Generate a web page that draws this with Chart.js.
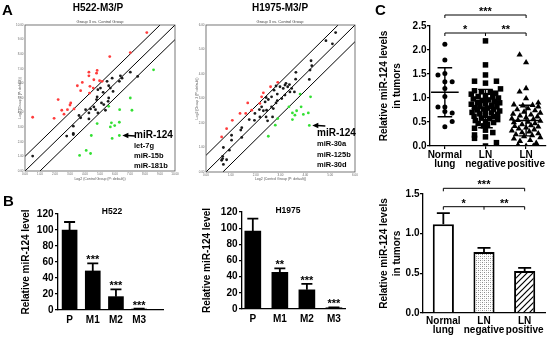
<!DOCTYPE html>
<html>
<head>
<meta charset="utf-8">
<script src="https://cdn.jsdelivr.net/npm/chart.js@4.4.0/dist/chart.umd.min.js"></script>
<style>
  body { margin: 0; background: #fff; }
  #fig { position: relative; width: 550px; height: 337px; overflow: hidden; font-family: "Liberation Sans", Arial, sans-serif; }
  #fig canvas { position: absolute; }
  .t { position: absolute; font-weight: bold; white-space: nowrap; line-height: 1; color: #000; }
  .c { transform: translate(-50%, -50%); }
  .m { transform: translateY(-50%); }
</style>
</head>
<body>
<div id="fig">
  <canvas id="aLeft" style="left:0;top:15px" width="185" height="175"></canvas>
  <canvas id="aRight" style="left:185px;top:15px" width="180" height="175"></canvas>
  <canvas id="bLeft" style="left:20px;top:200px" width="148" height="137"></canvas>
  <canvas id="bRight" style="left:201px;top:200px" width="149" height="137"></canvas>
  <canvas id="cDots" style="left:378px;top:0" width="172" height="172"></canvas>
  <canvas id="cBars" style="left:378px;top:170px" width="172" height="167"></canvas>

  <div class="t" style="left:2px;top:2px;font-size:15px">A</div>
  <div class="t" style="left:3px;top:193px;font-size:15px">B</div>
  <div class="t" style="left:375px;top:2px;font-size:15px">C</div>

  <div class="t c" style="left:98px;top:8px;font-size:10px">H522-M3/P</div>
  <div class="t c" style="left:280px;top:8px;font-size:10px">H1975-M3/P</div>
  <div class="t c" style="left:100px;top:22px;font-size:4px;font-weight:normal;color:#444">Group 3 vs. Control Group</div>
  <div class="t c" style="left:280px;top:22px;font-size:4px;font-weight:normal;color:#444">Group 3 vs. Control Group</div>

  <div class="t m" style="left:134px;top:135px;font-size:10px">miR-124</div>
  <div class="t m" style="left:134px;top:145.5px;font-size:7.5px">let-7g</div>
  <div class="t m" style="left:134px;top:155.5px;font-size:7.5px">miR-15b</div>
  <div class="t m" style="left:134px;top:166px;font-size:7.5px">miR-181b</div>

  <div class="t m" style="left:317px;top:133px;font-size:10px">miR-124</div>
  <div class="t m" style="left:317px;top:144px;font-size:7.5px">miR-30a</div>
  <div class="t m" style="left:317px;top:155px;font-size:7.5px">miR-125b</div>
  <div class="t m" style="left:317px;top:165px;font-size:7.5px">miR-30d</div>

  <div class="t c" style="left:112px;top:211px;font-size:8.5px">H522</div>
  <div class="t c" style="left:288px;top:210px;font-size:8.5px">H1975</div>
</div>

<script>
// ---------- panel A: [log2 control, log2 M3] ----------
const h522Up = [[8.12,9.48],[7.02,8.11],[5.65,7.84],[4.81,6.89],[4.77,6.70],[4.26,6.77],[4.26,6.52],[4.59,6.25],[4.97,6.18],[5.14,6.14],[3.82,6.07],[3.49,5.84],[4.33,5.80],[3.71,5.50],[4.55,5.68],[4.30,5.34],[2.21,4.89],[3.05,4.66],[3.00,4.52],[3.27,4.25],[2.83,4.20],[2.45,4.16],[2.60,3.89],[1.94,3.61],[0.51,3.68]];
const h522Flat = [[7.02,6.77],[7.51,6.48],[5.81,6.36],[5.47,6.14],[5.58,5.84],[6.29,6.14],[6.47,6.36],[5.03,5.68],[4.86,5.57],[5.69,5.68],[5.21,5.39],[4.81,5.07],[4.77,4.89],[5.58,5.00],[5.54,4.77],[5.10,4.66],[4.59,4.39],[4.37,4.25],[4.70,4.20],[4.04,4.20],[4.86,3.98],[4.26,3.98],[3.60,3.80],[3.71,3.64],[4.26,3.57],[5.36,4.16],[3.22,3.07],[3.22,2.57],[2.78,2.39],[3.22,2.50],[0.51,1.02],[6.36,6.52],[5.87,5.45],[5.25,4.55]];
const h522Down = [[8.57,6.93],[7.02,5.00],[7.13,4.16],[6.31,4.20],[5.58,4.43],[5.76,3.30],[5.69,3.02],[5.98,3.11],[4.81,3.25],[6.29,3.34],[6.29,2.43],[5.81,2.23],[4.42,2.43],[4.08,1.41],[4.37,1.20],[3.64,1.07]];
const h522Hit = [6.29, 2.43];   // miR-124

const h1975Up = [[2.89,3.66],[2.60,3.48],[2.31,3.23],[2.17,2.80],[1.68,2.82],[1.84,2.52],[1.60,2.39],[1.37,2.39],[1.06,2.11],[0.83,1.77],[0.63,1.43],[2.24,3.07]];
const h1975Flat = [[5.22,5.69],[4.83,5.36],[5.09,5.23],[4.23,4.54],[4.26,4.34],[4.19,4.16],[4.16,3.78],[3.62,4.07],[3.61,3.79],[3.22,3.62],[3.36,3.57],[3.29,3.48],[3.45,3.41],[3.11,3.41],[2.98,3.48],[2.82,3.51],[2.74,3.34],[2.87,3.18],[3.38,3.27],[3.18,3.14],[3.56,3.27],[2.64,3.07],[2.51,2.96],[2.42,3.04],[2.38,2.86],[2.64,2.66],[2.71,2.59],[2.44,2.52],[2.82,2.82],[3.05,3.00],[2.24,2.66],[2.15,2.55],[1.97,2.39],[2.17,2.25],[1.95,2.11],[1.74,2.14],[2.48,2.09],[2.42,2.25],[2.31,2.50],[2.68,2.25],[1.44,1.81],[1.40,1.71],[1.44,1.41],[1.03,1.50],[1.03,1.30],[0.70,1.00],[0.94,0.89],[0.67,0.64],[0.67,0.55],[0.63,0.48],[0.83,0.50],[0.70,0.31],[2.87,2.91],[3.18,3.55]];
const h1975Down = [[4.21,3.07],[3.79,3.18],[3.34,2.66],[3.83,2.66],[3.65,2.50],[3.48,2.41],[3.58,2.32],[3.48,2.14],[3.92,2.35],[4.12,2.41],[2.89,2.18],[2.79,1.91],[2.51,1.46],[4.16,1.90]];
const h1975Hit = [4.16, 1.90];  // miR-124

// ---------- panel B: qRT-PCR relative miR-124 level ----------
const cellGroups = ['P', 'M1', 'M2', 'M3'];
const h522Mean = [100, 48.8, 16.7, 1.2];
const h522Sem = [10, 9.5, 9.1, 0.4];
const h522Sig = ['', '***', '***', '***'];
const h1975Mean = [96.5, 45.4, 23.7, 1.5];
const h1975Sem = [15.2, 4.9, 7.3, 0.5];
const h1975Sig = ['', '**', '***', '***'];

// ---------- panel C: tumour samples ----------
const tissueGroups = [['Normal', 'lung'], ['LN', 'negative'], ['LN', 'positive']];
const normalLung = [2.12, 1.79, 1.51, 1.48, 1.34, 1.34, 1.20, 1.03, 0.81, 0.81, 0.72, 0.69, 0.51, 0.40];
const normalJit = [0, 0, 0, -0.17, 0, 0.18, 0, 0, -0.17, 0, 0, 0.18, 0.18, 0];
const lnNegative = [2.19,1.69,1.48,1.35,1.35,1.31,1.19,1.15,1.13,1.12,1.10,1.08,1.05,1.03,1.02,1.00,0.98,0.96,0.95,0.93,0.91,0.90,0.88,0.87,0.85,0.84,0.82,0.80,0.79,0.77,0.76,0.75,0.73,0.72,0.70,0.69,0.67,0.66,0.64,0.62,0.61,0.58,0.57,0.55,0.53,0.51,0.49,0.47,0.45,0.42,0.37,0.33,0.28,0.23,0.19,0.16,0.07,0.00];
const lnNegJit = [0,0,0,-0.27,0.27,0,0.37,-0.27,-0.1,0.12,0.25,-0.35,0,-0.18,0.18,0.32,-0.3,0.08,-0.08,0.22,-0.2,0.35,0,-0.35,0.15,-0.14,0.28,-0.27,0.05,-0.05,0.2,-0.2,0.35,0,-0.33,0.15,-0.14,0.3,0,-0.28,0.2,-0.1,0.1,0.3,-0.25,0,0.2,-0.18,0.05,-0.05,-0.27,0,0.18,-0.27,0,-0.27,0.27,0];
const lnPositive = [1.90,1.74,1.20,1.13,0.99,0.90,0.86,0.85,0.84,0.82,0.78,0.76,0.74,0.71,0.69,0.67,0.65,0.63,0.61,0.59,0.57,0.56,0.54,0.52,0.50,0.49,0.47,0.45,0.43,0.41,0.40,0.38,0.36,0.34,0.32,0.30,0.28,0.26,0.24,0.22,0.20,0.18,0.15,0.12,0.10,0.06,0.02,0.00,0.00];
const lnPosJit = [-0.16,0,0,-0.16,0,0.3,-0.3,0.16,-0.08,0.3,0.05,-0.22,0.22,-0.05,0.35,-0.32,0.12,-0.15,0.28,0,-0.35,0.18,-0.2,0.35,0.05,-0.3,0.22,-0.1,0.12,-0.28,0.3,0,-0.18,0.2,-0.35,0.08,-0.1,0.3,-0.25,0.15,-0.05,0.35,-0.3,0.1,-0.15,0.25,-0.2,0,0.18];
const groupMean = [1.12, 0.78, 0.53];
const groupSd = [0.51, 0.40, 0.32];
const barMean = [1.12, 0.77, 0.53];
const barSem = [0.14, 0.05, 0.04];

const FONT = '"Liberation Sans", Arial, sans-serif';
const base = {
  responsive: false,
  animation: false,
  events: [],
  plugins: { legend: { display: false }, tooltip: { enabled: false } }
};

function stars(ctx, text, x, cy) {
  ctx.save();
  ctx.font = 'bold 11px ' + FONT;
  ctx.textAlign = 'center';
  ctx.textBaseline = 'alphabetic';
  ctx.fillStyle = '#000';
  ctx.fillText(text, x, cy + 6);
  ctx.restore();
}

// box around the plot area of the microarray scatters
const frame = {
  id: 'frame',
  afterDraw(chart) {
    const { ctx, chartArea: a } = chart;
    ctx.save();
    ctx.strokeStyle = '#555';
    ctx.lineWidth = 0.8;
    ctx.strokeRect(a.left, a.top, a.right - a.left, a.bottom - a.top);
    ctx.restore();
  }
};

function arrowTo(hit) {
  return {
    id: 'arrowTo',
    afterDatasetsDraw(chart) {
      const { ctx, scales: { x, y } } = chart;
      const px = x.getPixelForValue(hit[0]) + 3, py = y.getPixelForValue(hit[1]);
      ctx.save();
      ctx.fillStyle = '#000';
      ctx.strokeStyle = '#000';
      ctx.lineWidth = 1.6;
      ctx.beginPath();
      ctx.moveTo(px, py);
      ctx.lineTo(px + 6, py - 2.8);
      ctx.lineTo(px + 6, py + 2.8);
      ctx.closePath();
      ctx.fill();
      ctx.beginPath();
      ctx.moveTo(px + 5, py);
      ctx.lineTo(px + 13, py + 0.5);
      ctx.stroke();
      ctx.restore();
    }
  };
}

function pts(list) { return list.map(p => ({ x: p[0], y: p[1] })); }

function arrayChart(id, up, flat, down, hit, span, fold, yWidth, xHeight, yTitlePad) {
  const dot = (data, color) => ({ data: pts(data), backgroundColor: color, borderWidth: 0, pointRadius: 1.4 });
  const line = (data) => ({ data, showLine: true, borderColor: '#000', borderWidth: 1, pointRadius: 0 });
  const tiny = { size: 3, family: FONT };
  new Chart(document.getElementById(id), {
    type: 'scatter',
    data: {
      datasets: [
        dot(up, '#ff3b3b'),
        dot(down, '#33e033'),
        dot(flat, '#1a1a1a'),
        line([{ x: 0, y: fold }, { x: span - fold, y: span }]),
        line([{ x: 0, y: 0 }, { x: span, y: span }]),
        line([{ x: fold, y: 0 }, { x: span, y: span - fold }])
      ]
    },
    options: {
      ...base,
      layout: { padding: { top: 10, right: 10, bottom: 0, left: 0 } },
      scales: {
        x: {
          type: 'linear', min: 0, max: span,
          afterFit: s => { s.height = xHeight; },
          grid: { display: false, drawTicks: false }, border: { display: false },
          ticks: { stepSize: 1, font: tiny, color: '#666', padding: 1.5, maxRotation: 0, callback: v => v.toFixed(2) },
          title: { display: true, text: 'Log2 (Control Group (P: default))', font: { size: 3.5, family: FONT }, color: '#555', padding: { top: 0, bottom: 9 } }
        },
        y: {
          min: 0, max: span,
          afterFit: s => { s.width = yWidth; },
          grid: { display: false, drawTicks: false }, border: { display: false },
          ticks: { stepSize: 1, font: tiny, color: '#666', padding: 1.5, callback: v => v.toFixed(2) },
          title: { display: true, text: 'Log2 (Group 3 (P: default))', font: { size: 3.5, family: FONT }, color: '#555', padding: { top: yTitlePad, bottom: 0 } }
        }
      }
    },
    plugins: [frame, arrowTo(hit)]
  });
}

arrayChart('aLeft', h522Up, h522Flat, h522Down, h522Hit, 10, 1, 25, 19, 18);
arrayChart('aRight', h1975Up, h1975Flat, h1975Down, h1975Hit, 6, 0.68, 21, 18, 10);

// ---------- shared axis styling for the GraphPad-like panels ----------
const tickFont = { size: 10, weight: 'bold', family: FONT, lineHeight: 0.9 };
const titleFont = { size: 10, weight: 'bold', family: FONT, lineHeight: 1.3 };

function errorPlugin(sems, sig, cap, width) {
  return {
    id: 'errors',
    afterDatasetsDraw(chart) {
      const { ctx, scales: { y } } = chart;
      const meta = chart.getDatasetMeta(0);
      const data = chart.data.datasets[0].data;
      ctx.save();
      ctx.strokeStyle = '#000';
      ctx.lineWidth = width;
      meta.data.forEach((bar, i) => {
        const v = typeof data[i] === 'object' ? data[i].y : data[i];
        const top = y.getPixelForValue(v + sems[i]);
        ctx.beginPath();
        ctx.moveTo(bar.x, bar.y);
        ctx.lineTo(bar.x, top);
        ctx.moveTo(bar.x - cap, top);
        ctx.lineTo(bar.x + cap, top);
        ctx.stroke();
        if (sig && sig[i]) stars(ctx, sig[i], bar.x, top - 6);
      });
      ctx.restore();
    }
  };
}

function bracketPlugin(items, valueOf) {
  return {
    id: 'brackets',
    afterDraw(chart) {
      const { ctx } = chart;
      const x = chart.scales.x;
      const px = i => x.getPixelForValue(valueOf(i));
      ctx.save();
      ctx.strokeStyle = '#000';
      ctx.lineWidth = 1;
      items.forEach(b => {
        ctx.beginPath();
        ctx.moveTo(px(b.from), b.y + 3);
        ctx.lineTo(px(b.from), b.y);
        ctx.lineTo(px(b.to), b.y);
        ctx.lineTo(px(b.to), b.y + 3);
        if (b.mid != null) {
          ctx.moveTo(px(b.mid), b.y);
          ctx.lineTo(px(b.mid), b.y + 3);
        }
        ctx.stroke();
        b.labels.forEach(([txt, at]) => stars(ctx, txt, px(at), b.y - 6));
      });
      ctx.restore();
    }
  };
}

// ---------- panel B ----------
function cellChart(id, means, sems, sig, xmin, xmax, yWidth, top, xHeight, thick) {
  new Chart(document.getElementById(id), {
    type: 'bar',
    data: {
      datasets: [{
        data: means.map((v, i) => ({ x: i, y: v })),
        backgroundColor: '#000',
        borderWidth: 0,
        barThickness: thick
      }]
    },
    options: {
      ...base,
      layout: { padding: { top, right: 5, bottom: 0, left: 0 } },
      scales: {
        x: {
          type: 'linear', min: xmin, max: xmax, offset: false,
          afterBuildTicks: s => { s.ticks = cellGroups.map((c, i) => ({ value: i })); },
          afterFit: s => { s.height = xHeight; },
          grid: { display: false, drawTicks: false, offset: false },
          border: { color: '#000', width: 1.3 },
          ticks: { font: tickFont, color: '#000', padding: 6, maxRotation: 0, autoSkip: false, callback: v => cellGroups[Math.round(v)] }
        },
        y: {
          min: 0, max: 120,
          afterFit: s => { s.width = yWidth; },
          grid: { drawOnChartArea: false, tickLength: 3, color: '#000', lineWidth: 1.3 },
          border: { color: '#000', width: 1.3 },
          ticks: { stepSize: 20, font: tickFont, color: '#000', padding: 1.5 },
          title: { display: true, text: 'Relative miR-124 level', font: titleFont, color: '#000', padding: 0 }
        }
      }
    },
    plugins: [errorPlugin(sems, sig, 5.5, 1.8)]
  });
}

cellChart('bLeft', h522Mean, h522Sem, h522Sig, -0.5, 4.03, 38, 14, 27, 15);
cellChart('bRight', h1975Mean, h1975Sem, h1975Sig, -0.4, 3.41, 41, 12, 28, 16);

// ---------- panel C, dot plot ----------
const yTitleC = { display: true, text: ['Relative miR-124 levels', 'in tumors'], font: titleFont, color: '#000', padding: 0 };

const meanSd = {
  id: 'meanSd',
  afterDatasetsDraw(chart) {
    const { ctx, scales: { x, y } } = chart;
    ctx.save();
    ctx.strokeStyle = '#000';
    ctx.lineWidth = 1.4;
    groupMean.forEach((m, i) => {
      const c = i + 1;
      const hi = y.getPixelForValue(m + groupSd[i]), lo = y.getPixelForValue(m - groupSd[i]);
      const my = y.getPixelForValue(m);
      ctx.beginPath();
      ctx.moveTo(x.getPixelForValue(c - 0.34), my); ctx.lineTo(x.getPixelForValue(c + 0.34), my);
      ctx.moveTo(x.getPixelForValue(c), hi); ctx.lineTo(x.getPixelForValue(c), lo);
      ctx.moveTo(x.getPixelForValue(c - 0.18), hi); ctx.lineTo(x.getPixelForValue(c + 0.18), hi);
      ctx.moveTo(x.getPixelForValue(c - 0.18), lo); ctx.lineTo(x.getPixelForValue(c + 0.18), lo);
      ctx.stroke();
    });
    ctx.restore();
  }
};

const swarm = (vals, jit, g) => vals.map((v, i) => ({ x: g + 1 + jit[i], y: v }));

new Chart(document.getElementById('cDots'), {
  type: 'scatter',
  data: {
    datasets: [
      { data: swarm(normalLung, normalJit, 0), pointStyle: 'circle', pointRadius: 2.5, backgroundColor: '#000', borderWidth: 0 },
      { data: swarm(lnNegative, lnNegJit, 1), pointStyle: 'rect', pointRadius: 3.9, backgroundColor: '#000', borderWidth: 0 },
      { data: swarm(lnPositive, lnPosJit, 2), pointStyle: 'triangle', pointRadius: 3.6, backgroundColor: '#000', borderWidth: 0 }
    ]
  },
  options: {
    ...base,
    layout: { padding: { top: 26, right: 3, bottom: 0, left: 0 } },
    scales: {
      x: {
        type: 'linear', min: 0.634, max: 3.49,
        afterBuildTicks: s => { s.ticks = tissueGroups.map((g, i) => ({ value: i + 1 })); },
        afterFit: s => { s.height = 26; },
        grid: { drawOnChartArea: false, tickLength: 3, color: '#000', lineWidth: 1.2 },
        border: { color: '#000', width: 1.3 },
        ticks: { font: tickFont, color: '#000', padding: 2, maxRotation: 0, autoSkip: false, callback: v => tissueGroups[Math.round(v) - 1] }
      },
      y: {
        min: 0, max: 2.5,
        afterFit: s => { s.width = 52; },
        grid: { drawOnChartArea: false, tickLength: 3, color: '#000', lineWidth: 1.3 },
        border: { color: '#000', width: 1.3 },
        ticks: { stepSize: 0.5, font: tickFont, color: '#000', padding: 0.5, callback: v => v.toFixed(1) },
        title: yTitleC
      }
    }
  },
  plugins: [meanSd, bracketPlugin([
    { from: 0, to: 2, y: 15, labels: [['***', 1]] },
    { from: 0, to: 2, y: 33, mid: 1, labels: [['*', 0.5], ['**', 1.5]] }
  ], i => i + 1)]
});

// ---------- panel C, bar plot ----------
const barCanvas = document.getElementById('cBars');
const bctx = barCanvas.getContext('2d');

const dotTile = document.createElement('canvas');
dotTile.width = 4; dotTile.height = 4;
let g = dotTile.getContext('2d');
g.fillStyle = '#fff'; g.fillRect(0, 0, 4, 4);
g.fillStyle = '#8a8a8a'; g.fillRect(0, 0, 1, 1); g.fillRect(2, 2, 1, 1);
g.fillStyle = '#c4c4c4'; g.fillRect(2, 0, 1, 1); g.fillRect(0, 2, 1, 1);
const dotFill = bctx.createPattern(dotTile, 'repeat');

const hatchTile = document.createElement('canvas');
hatchTile.width = 6; hatchTile.height = 6;
g = hatchTile.getContext('2d');
g.fillStyle = '#fff'; g.fillRect(0, 0, 6, 6);
g.strokeStyle = '#000'; g.lineWidth = 1.2;
g.beginPath();
g.moveTo(-1, 7); g.lineTo(7, -1);
g.moveTo(-4, 4); g.lineTo(4, -4);
g.moveTo(2, 10); g.lineTo(10, 2);
g.stroke();
const hatchFill = bctx.createPattern(hatchTile, 'repeat');

new Chart(barCanvas, {
  type: 'bar',
  data: {
    labels: tissueGroups,
    datasets: [{
      data: barMean,
      backgroundColor: ['#fff', dotFill, hatchFill],
      borderColor: '#000',
      borderWidth: 2,
      barPercentage: 0.52,
      categoryPercentage: 1
    }]
  },
  options: {
    ...base,
    layout: { padding: { top: 24, right: 5, bottom: 0, left: 0 } },
    scales: {
      x: {
        afterFit: s => { s.height = 24; },
        grid: { display: false, drawTicks: false },
        border: { color: '#000', width: 1.3 },
        ticks: { font: tickFont, color: '#000', padding: 3.5, maxRotation: 0, autoSkip: false }
      },
      y: {
        min: 0, max: 1.5,
        afterFit: s => { s.width = 45; },
        grid: { drawOnChartArea: false, tickLength: 3, color: '#000', lineWidth: 1.3 },
        border: { color: '#000', width: 1.3 },
        ticks: { stepSize: 0.5, font: tickFont, color: '#000', padding: 0.5, callback: v => v.toFixed(1) },
        title: yTitleC
      }
    }
  },
  plugins: [errorPlugin(barSem, null, 6.5, 1.8), bracketPlugin([
    { from: 0, to: 2, y: 18.3, labels: [['***', 1]] },
    { from: 0, to: 2, y: 36.7, mid: 1, labels: [['*', 0.5], ['**', 1.5]] }
  ], i => i)]
});
</script>
</body>
</html>
